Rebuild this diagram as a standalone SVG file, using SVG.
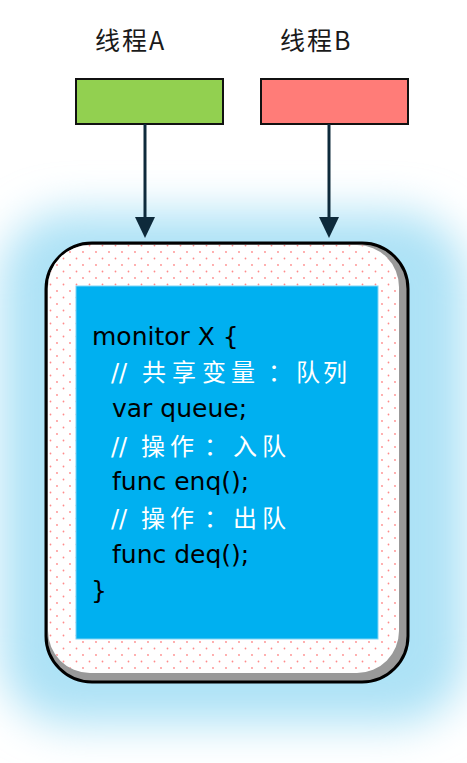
<svg xmlns="http://www.w3.org/2000/svg" width="467" height="763" viewBox="0 0 467 763">
<style>
.title{font-family:"Noto Sans CJK SC","DejaVu Sans",sans-serif;font-size:25px;fill:#1a1a1a}
.code{font-family:"DejaVu Sans","Noto Sans CJK SC",sans-serif;font-size:25px;fill:#000}
.cmt{font-family:"DejaVu Sans","Noto Sans CJK SC",sans-serif;font-size:24px;fill:#fff}
.cjk{font-family:"Noto Sans CJK SC",sans-serif}
.conn{stroke:#0e2a3b;stroke-width:3;fill:none}
</style>
<defs>
<filter id="glow" x="-30%" y="-30%" width="160%" height="160%">
<feGaussianBlur stdDeviation="22"/>
</filter>
<pattern id="dots" width="13" height="13" patternUnits="userSpaceOnUse" x="2" y="2">
<circle cx="3" cy="3" r="0.9" fill="#ff8a8a"/>
<circle cx="9.5" cy="9.5" r="0.9" fill="#ff8a8a"/>
</pattern>
</defs>

<rect x="0" y="212" width="467" height="512" rx="70" fill="#ade2f6" filter="url(#glow)"/>

<g id="threadA">
<rect x="76" y="79" width="147" height="45" fill="#92d050" stroke="#111" stroke-width="2"/>
<text class="title" x="95" y="50" letter-spacing="2">线程A</text>
</g>
<g id="threadB">
<rect x="261" y="79" width="147" height="45" fill="#ff7c78" stroke="#111" stroke-width="2"/>
<text class="title" x="280" y="50" letter-spacing="2">线程B</text>
</g>

<g id="connectors">
<line class="conn" x1="145" y1="124" x2="145" y2="218"/>
<path d="M135,217 L155,217 L145,238 Z" fill="#0e2a3b"/>
<line class="conn" x1="329" y1="124" x2="329" y2="218"/>
<path d="M319,217 L339,217 L329,238 Z" fill="#0e2a3b"/>
</g>

<g id="monitor">
<rect x="46" y="243" width="362" height="439" rx="46" fill="#999" stroke="#000" stroke-width="3"/>
<rect x="48" y="245" width="351" height="428" rx="42" fill="#fff"/>
<rect x="48" y="245" width="351" height="428" rx="42" fill="url(#dots)"/>
<rect x="76" y="286" width="302" height="353" fill="#00b0f0" stroke="#7fd4f5" stroke-width="1"/>
<text class="code" x="92" y="345">monitor X {</text>
<text class="cmt" x="111" y="381">//</text>
<text class="cmt cjk" y="381"><tspan x="142">共</tspan><tspan x="172">享</tspan><tspan x="202">变</tspan><tspan x="231">量</tspan><tspan x="268">：</tspan><tspan x="296">队</tspan><tspan x="323">列</tspan></text>
<text class="code" x="112" y="417">var queue;</text>
<text class="cmt" x="111" y="455">//</text>
<text class="cmt cjk" y="455"><tspan x="141">操</tspan><tspan x="170">作</tspan><tspan x="204">：</tspan><tspan x="233">入</tspan><tspan x="262">队</tspan></text>
<text class="code" x="112" y="490">func enq();</text>
<text class="cmt" x="111" y="527">//</text>
<text class="cmt cjk" y="527"><tspan x="141">操</tspan><tspan x="170">作</tspan><tspan x="204">：</tspan><tspan x="233">出</tspan><tspan x="262">队</tspan></text>
<text class="code" x="112" y="563">func deq();</text>
<text class="code" x="91" y="599">}</text>
</g>
</svg>
